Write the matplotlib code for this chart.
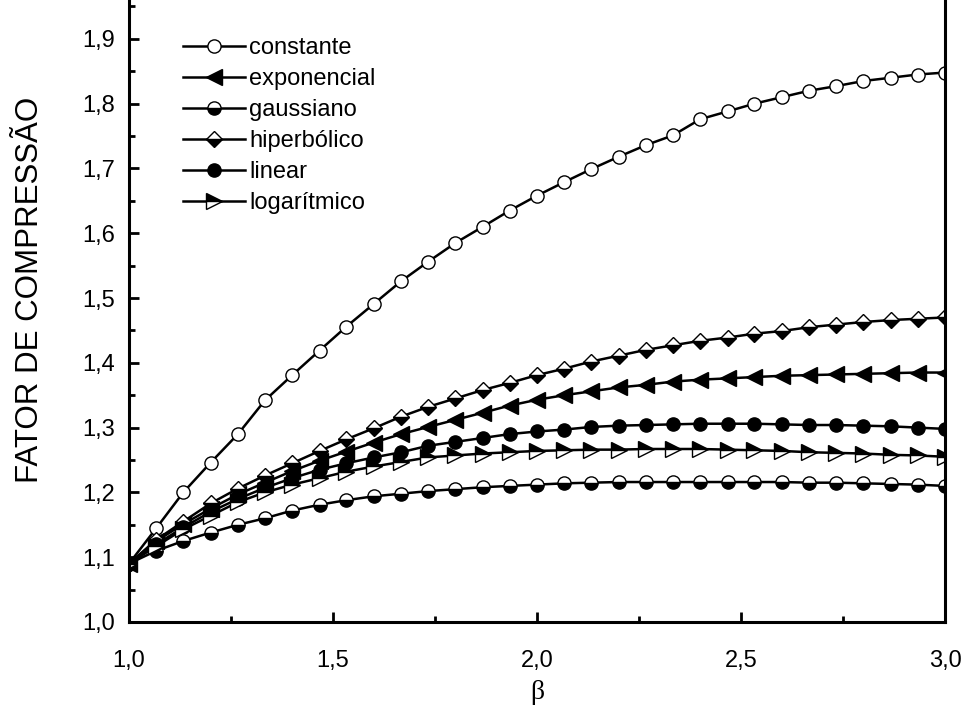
import numpy as np
import matplotlib
matplotlib.use("Agg")
import matplotlib.pyplot as plt

plt.rcParams['font.family'] = ['Liberation Sans', 'DejaVu Sans']

# beta values (31 points, step 1/15)
beta = [1.000, 1.067, 1.133, 1.200, 1.267, 1.333, 1.400, 1.467, 1.533, 1.600,
        1.667, 1.733, 1.800, 1.867, 1.933, 2.000, 2.067, 2.133, 2.200, 2.267,
        2.333, 2.400, 2.467, 2.533, 2.600, 2.667, 2.733, 2.800, 2.867, 2.933,
        3.000]

constante = [1.090, 1.145, 1.200, 1.246, 1.290, 1.342, 1.381, 1.419, 1.456, 1.491,
             1.526, 1.556, 1.585, 1.610, 1.635, 1.658, 1.679, 1.699, 1.718, 1.736,
             1.751, 1.776, 1.788, 1.800, 1.810, 1.820, 1.827, 1.835, 1.840, 1.845,
             1.848]
exponencial = [1.090, 1.125, 1.151, 1.175, 1.197, 1.215, 1.233, 1.249, 1.263, 1.277,
               1.290, 1.301, 1.312, 1.323, 1.334, 1.343, 1.350, 1.356, 1.362, 1.366,
               1.371, 1.374, 1.376, 1.378, 1.380, 1.381, 1.382, 1.383, 1.384, 1.385,
               1.385]
gaussiano = [1.090, 1.110, 1.125, 1.138, 1.150, 1.160, 1.172, 1.181, 1.188, 1.194,
             1.198, 1.202, 1.205, 1.208, 1.210, 1.212, 1.214, 1.215, 1.216, 1.216,
             1.216, 1.216, 1.216, 1.216, 1.216, 1.215, 1.215, 1.214, 1.213, 1.212,
             1.210]
hiperbolico = [1.090, 1.127, 1.155, 1.183, 1.206, 1.226, 1.245, 1.264, 1.282, 1.299,
               1.317, 1.332, 1.345, 1.358, 1.369, 1.381, 1.391, 1.402, 1.411, 1.420,
               1.427, 1.434, 1.439, 1.445, 1.449, 1.455, 1.459, 1.463, 1.466, 1.468,
               1.470]
linear = [1.090, 1.120, 1.146, 1.170, 1.190, 1.207, 1.222, 1.235, 1.245, 1.254,
          1.262, 1.272, 1.278, 1.284, 1.290, 1.294, 1.297, 1.301, 1.303, 1.304,
          1.305, 1.306, 1.306, 1.306, 1.305, 1.304, 1.304, 1.303, 1.302, 1.300,
          1.298]
logaritmico = [1.090, 1.117, 1.143, 1.164, 1.185, 1.200, 1.212, 1.222, 1.232, 1.240,
               1.247, 1.254, 1.257, 1.260, 1.262, 1.264, 1.265, 1.266, 1.266, 1.267,
               1.267, 1.267, 1.266, 1.265, 1.264, 1.262, 1.261, 1.260, 1.258, 1.257,
               1.255]

x_ticks = [1.0, 1.5, 2.0, 2.5, 3.0]
y_ticks = [1.0, 1.1, 1.2, 1.3, 1.4, 1.5, 1.6, 1.7, 1.8, 1.9]

fig = plt.figure(figsize=(9.68, 7.15), dpi=100)
ax = fig.add_axes([0.1333, 0.1301, 0.8429, 0.8699])

common = dict(color='black', lw=1.8, markeredgecolor='black', markeredgewidth=1.0)
ax.plot(beta, constante, marker='o', ms=9.5, markerfacecolor='white',
        label='constante', **common)
ax.plot(beta, exponencial, marker='<', ms=11, markerfacecolor='black',
        label='exponencial', **common)
ax.plot(beta, gaussiano, marker='o', ms=9.5, fillstyle='bottom',
        markerfacecolor='black', markerfacecoloralt='white',
        label='gaussiano', **common)
ax.plot(beta, hiperbolico, marker='D', ms=8.5, fillstyle='bottom',
        markerfacecolor='black', markerfacecoloralt='white',
        label='hiperbólico', **common)
ax.plot(beta, linear, marker='o', ms=9.5, markerfacecolor='black',
        label='linear', **common)
ax.plot(beta, logaritmico, marker='>', ms=11, fillstyle='top',
        markerfacecolor='black', markerfacecoloralt='white',
        label='logarítmico', **common)

ax.set_xlim(1.0, 3.0)
ax.set_ylim(1.0, 1.96)
ax.set_xticks(x_ticks)
ax.set_xticklabels([f"{v:.1f}".replace('.', ',') for v in x_ticks])
ax.set_yticks(y_ticks)
ax.set_yticklabels([f"{v:.1f}".replace('.', ',') for v in y_ticks])
ax.set_xticks(np.arange(1.25, 3.0, 0.5), minor=True)
ax.set_yticks(np.arange(1.05, 1.96, 0.1), minor=True)

ax.tick_params(which='both', direction='in', width=2, labelsize=17,
               top=False, right=False)
ax.tick_params(which='major', length=7)
ax.tick_params(which='minor', length=4.5)
ax.tick_params(axis='x', pad=20)
ax.tick_params(axis='y', pad=10)

for side in ['left', 'bottom', 'right']:
    ax.spines[side].set_linewidth(2.2)
ax.spines['top'].set_visible(False)

ax.set_xlabel('β', fontsize=20, family='Liberation Serif')
ax.xaxis.set_label_coords(0.5, -0.093)
ax.set_ylabel('FATOR DE COMPRESSÃO', fontsize=22.5)
ax.yaxis.set_label_coords(-0.103, 0.534)

ax.legend(loc='upper left', bbox_to_anchor=(0.055, 0.955), frameon=False,
          fontsize=17, numpoints=1, handlelength=2.6, handletextpad=0.2,
          labelspacing=0.38, borderaxespad=0)

fig.savefig('out.png', dpi=100)
